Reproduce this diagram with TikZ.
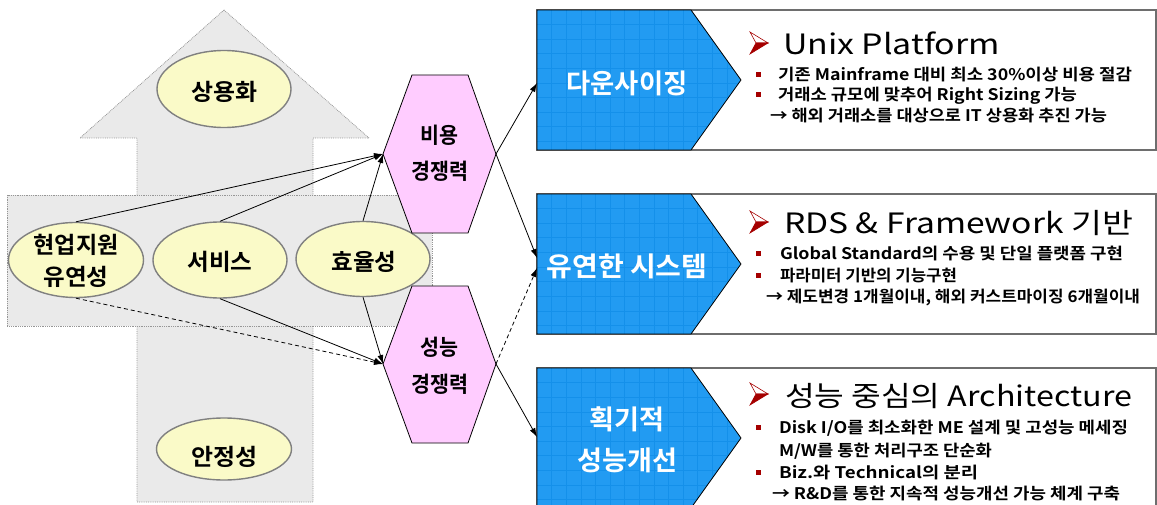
\documentclass[tikz,border=0pt]{standalone}
\usepackage{fontspec}
\usepackage{graphicx}
\setmainfont{Noto Sans CJK KR}[BoldFont={Noto Sans CJK KR Bold}]
\usetikzlibrary{arrows.meta,shapes.geometric}
\newcommand\fitw[2]{\resizebox{#1}{\height}{#2}}
\definecolor{argray}{RGB}{234,234,234}
\definecolor{dotgray}{RGB}{150,150,150}
\definecolor{ellfill}{RGB}{250,250,200}
\definecolor{ellline}{RGB}{128,128,128}
\definecolor{hexfill}{RGB}{255,204,255}
\definecolor{bluefill}{RGB}{34,155,242}
\definecolor{bluegrid}{RGB}{20,144,234}
\definecolor{boxline}{RGB}{110,110,110}
\definecolor{darkred}{RGB}{165,0,0}
\begin{document}
\begin{tikzpicture}[x=1pt,y=-1pt,
  lab/.style={inner sep=0pt, outer sep=0pt},
  elab/.style={lab, font=\bfseries\fontsize{23}{23}\selectfont},
  hlab/.style={lab, font=\bfseries\fontsize{22}{22}\selectfont},
  blab/.style={lab, text=white, font=\bfseries\fontsize{27}{27}\selectfont},
  ttl/.style={lab, anchor=base west, font=\fontsize{28}{28}\selectfont},
  bul/.style={lab, anchor=base west, font=\bfseries\fontsize{16}{16}\selectfont},
  ell/.style={ellipse, draw=ellline, line width=1.4pt, fill=ellfill, inner sep=0pt},
  conn/.style={line width=0.8pt, -{Latex[length=9pt,width=6pt]}},
  dconn/.style={conn, dash pattern=on 4pt off 3pt},
  outl/.style={draw=dotgray, line width=0.8pt, densely dotted, fill=argray},
  hexa/.style={draw=black, line width=0.8pt, fill=hexfill},
]
\useasboundingbox (0,0) rectangle (1157,505);

% big gray arrow and band
\path[outl] (224,10) -- (369,138) -- (313,138) -- (313,502) -- (137,502) -- (137,138) -- (80,138) -- cycle;
\path[outl] (7,195) rectangle (432,326);

% ellipses
\node[ell, minimum width=134pt, minimum height=77pt] (sy) at (224,89) {};
\node[ell, minimum width=135pt, minimum height=75pt] (hy) at (76,260) {};
\node[ell, minimum width=134pt, minimum height=76pt] (sv) at (220,260) {};
\node[ell, minimum width=134pt, minimum height=75pt] (hr) at (363,259) {};
\node[ell, minimum width=135pt, minimum height=62pt] (aj) at (224,449) {};

\node[elab] (syt) at (224,92) {\fitw{66pt}{상용화}};
\node[elab] (hyt1) at (76,245) {\fitw{85pt}{현업지원}};
\node[elab] (hyt2) at (76,277) {\fitw{65pt}{유연성}};
\node[elab] (svt) at (220,262) {\fitw{65pt}{서비스}};
\node[elab] (hrt) at (364,262) {\fitw{65pt}{효율성}};
\node[elab] (ajt) at (224,457) {\fitw{66pt}{안정성}};

% hexagons
\path[hexa] (383,154) -- (412,75) -- (468,75) -- (496,154) -- (468,233) -- (412,233) -- cycle;
\path[hexa] (383,364) -- (412,286) -- (468,286) -- (496,364) -- (468,443) -- (412,443) -- cycle;
\coordinate (h1w) at (383,154);
\coordinate (h1e) at (496,154);
\coordinate (h2w) at (383,364);
\coordinate (h2e) at (496,364);
\node[hlab] (h1t1) at (439,135) {\fitw{38pt}{비용}};
\node[hlab] (h1t2) at (440,171) {\fitw{57pt}{경쟁력}};
\node[hlab] (h2t1) at (439,347) {\fitw{38pt}{성능}};
\node[hlab] (h2t2) at (440,384) {\fitw{57pt}{경쟁력}};

% right boxes
\foreach \t in {10,194,368}{
  \draw[boxline, line width=1.2pt, fill=white] (537,\t) rectangle (1156,{\t+140});
  \begin{scope}
    \clip (537,\t) -- (691,\t) -- (741,{\t+70}) -- (691,{\t+140}) -- (537,{\t+140}) -- cycle;
    \fill[bluefill] (537,\t) rectangle (741,{\t+140});
    \foreach \i in {1,...,14} \draw[bluegrid, line width=0.6pt] ({537+14.6*\i},\t) -- ++(0,140);
    \foreach \j in {1,...,9} \draw[bluegrid, line width=0.6pt] (537,{\t+14.6*\j}) -- ++(204,0);
  \end{scope}
  \draw[line width=0.8pt] (537,\t) -- (691,\t) -- (741,{\t+70}) -- (691,{\t+140}) -- (537,{\t+140}) -- cycle;
}
\coordinate (t1) at (537,83);
\coordinate (t2a) at (537,258);
\coordinate (t2b) at (537,268);
\coordinate (t3) at (537,437);

\node[blab] (b1) at (627,83) {\fitw{121pt}{다운사이징}};
\node[blab] (b2) at (627,266) {\fitw{161pt}{유연한 시스템}};
\node[blab] (b3a) at (627,419) {\fitw{75pt}{획기적}};
\node[blab] (b3b) at (627,460) {\fitw{100pt}{성능개선}};

% red arrow bullets and squares
\foreach \c in {43,222,394}{
  \filldraw[draw=darkred, fill=white, line width=0.6pt] (750,{\c-11}) -- (768,\c) -- (756,\c) -- cycle;
  \filldraw[draw=darkred, fill=darkred, line width=0.6pt] (756,\c) -- (768,\c) -- (750,{\c+11}) -- cycle;
}
\foreach \c in {75,95,254,276,427,472}{
  \fill[darkred] (755.5,{\c-2.5}) rectangle ++(5,5);
}

% texts
\node[ttl] (x1) at (783,55) {\fitw{217pt}{Unix Platform}};
\node[bul] (x11) at (778,81) {\fitw{354pt}{기존 Mainframe 대비 최소 30\%이상 비용 절감}};
\node[bul] (x12) at (778,101) {\fitw{299pt}{거래소 규모에 맞추어 Right Sizing 가능}};
\node[bul] (x13) at (770,122) {\fitw{337pt}{→ 해외 거래소를 대상으로 IT 상용화 추진 가능}};

\node[ttl] (x2) at (784,234) {\fitw{349pt}{RDS \& Framework 기반}};
\node[bul] (x21) at (780,260) {\fitw{343pt}{Global Standard의 수용 및 단일 플랫폼 구현}};
\node[bul] (x22) at (780,282) {\fitw{177pt}{파라미터 기반의 기능구현}};
\node[bul] (x23) at (766,302) {\fitw{374pt}{→ 제도변경 1개월이내, 해외 커스트마이징 6개월이내}};

\node[ttl] (x3) at (785,406) {\fitw{347pt}{성능 중심의 Architecture}};
\node[bul] (x31) at (779,433) {\fitw{349pt}{Disk I/O를 최소화한 ME 설계 및 고성능 메세징}};
\node[bul] (x32) at (779,456) {\fitw{213pt}{M/W를 통한 처리구조 단순화}};
\node[bul] (x33) at (779,478) {\fitw{199pt}{Biz.와 Technical의 분리}};
\node[bul] (x34) at (772,499) {\fitw{348pt}{→ R\&D를 통한 지속적 성능개선 가능 체계 구축}};

% connectors
\draw[conn] (hy.north) -- (h1w);
\draw[conn] (sv.north) -- (h1w);
\draw[conn] (hr.north) -- (h1w);
\draw[conn] (sv.south) -- (h2w);
\draw[conn] (hr.south) -- (h2w);
\draw[dconn] (hy.south) -- (h2w);
\draw[conn] (h1e) -- (t1);
\draw[conn] (h1e) -- (t2a);
\draw[dconn] (h2e) -- (t2b);
\draw[conn] (h2e) -- (t3);
\end{tikzpicture}
\end{document}
